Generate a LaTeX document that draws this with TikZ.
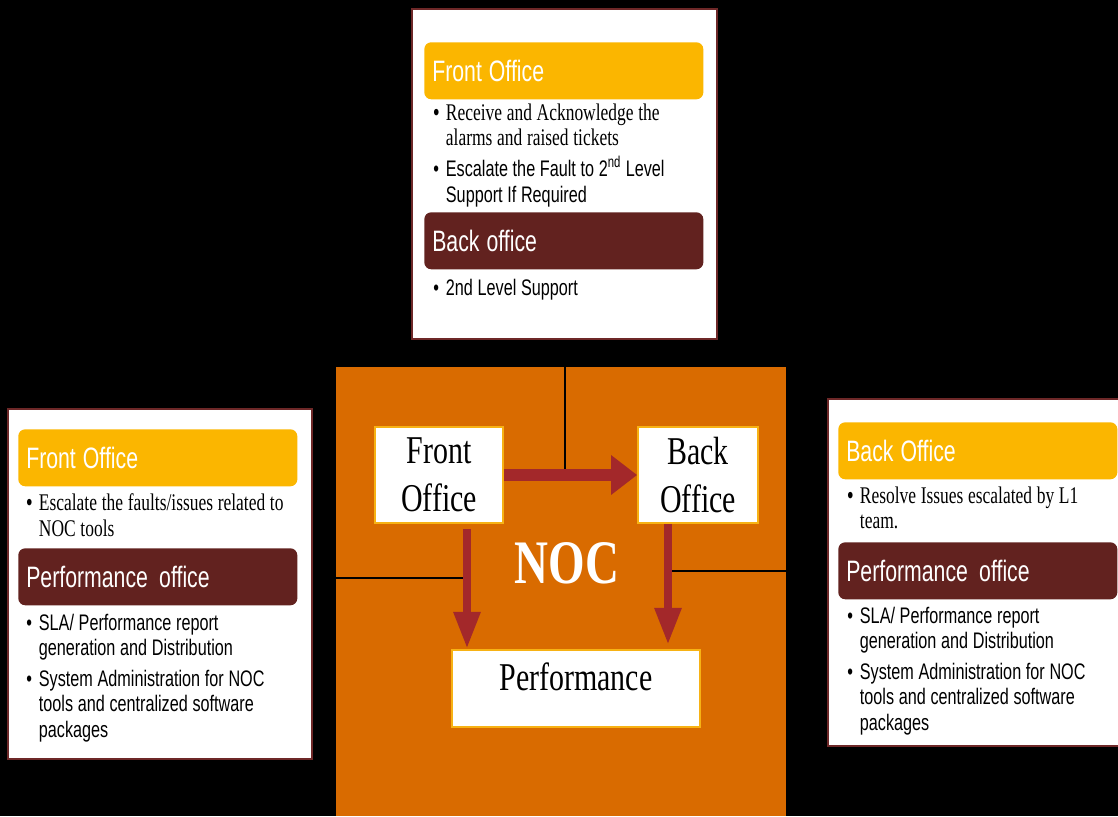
\documentclass[tikz,border=0pt]{standalone}
\usepackage{fontspec}
\setmainfont{Liberation Serif}
\newfontfamily\slidesf[FakeStretch=0.72, WordSpace=0.75]{Liberation Sans}
\newfontfamily\slideserif[FakeStretch=0.73, WordSpace=0.75]{Liberation Serif}
\newfontfamily\boxserif[FakeStretch=0.76]{Liberation Serif}
\usetikzlibrary{arrows.meta, positioning}

\definecolor{nocorange}{RGB}{217,107,0}
\definecolor{bargold}{RGB}{251,182,0}
\definecolor{barmaroon}{RGB}{98,34,31}
\definecolor{panelrim}{RGB}{110,40,40}
\definecolor{flowred}{RGB}{163,40,42}
\definecolor{boxrim}{RGB}{247,178,20}

% bullet lines, sans and serif
\newcommand{\sfitem}[1]{{\slidesf\fontsize{16}{18}\selectfont\hangindent=9pt\hangafter=1\noindent\makebox[9pt][l]{\textbullet}#1\par}\vspace{4pt}}
\newcommand{\rmitem}[1]{{\slideserif\fontsize{17}{18}\selectfont\hangindent=9pt\hangafter=1\noindent\makebox[9pt][l]{\slidesf\textbullet}#1\par}\vspace{4pt}}
% heading text in a coloured bar
\newcommand{\bartext}[1]{\noindent\spaceskip=5pt\relax#1\par}

\begin{document}
\begin{tikzpicture}[
        x=0.025cm, y=-0.025cm,
        panel/.style={draw=panelrim, line width=1.5pt, fill=white, anchor=north west, inner sep=0pt},
        bar/.style={anchor=north west, rounded corners=5pt, minimum height=1.425cm, text width=6.575cm,
            inner xsep=0.2cm, text=white, font=\slidesf\fontsize{21}{24}\selectfont},
        goldbar/.style={bar, fill=bargold},
        maroonbar/.style={bar, fill=barmaroon},
        notes/.style={anchor=north west, inner sep=0pt, text width=7cm},
        centerbox/.style={draw=boxrim, line width=1.2pt, fill=white, align=center, inner sep=0pt,
            font=\boxserif\fontsize{28}{34}\selectfont},
        wire/.style={draw=black, line width=1.5pt},
        flow/.style={draw=flowred, line width=0.3cm, -{Triangle[length=0.65cm, width=0.95cm]}},
        drop/.style={draw=flowred, line width=0.22cm, -{Triangle[length=0.93cm, width=0.62cm]}}
    ]

    \useasboundingbox (0,0) rectangle (1118,816);
    \clip (0,0) rectangle (1118,816);
    \fill[black] (0,0) rectangle (1118,816);

    % NOC block
    \fill[nocorange] (336,367) rectangle (786,816);

    % Top panel
    \node[panel, minimum width=7.625cm, minimum height=8.25cm] (toppanel) at (411,8) {};
    \node[goldbar] (topfront) at ([shift={(13,34)}]toppanel.north west) {\bartext{Front Office}};
    \node[notes] (topfrontnotes) at ([shift={(9,4)}]topfront.south west) {
        \rmitem{Receive and Acknowledge the\newline alarms and raised tickets}
        \sfitem{Escalate the Fault to 2\textsuperscript{nd} Level\newline Support If Required}};
    \node[maroonbar] (topback) at ([shift={(13,204)}]toppanel.north west) {\bartext{Back office}};
    \node[notes] (topbacknotes) at ([shift={(9,9)}]topback.south west) {
        \sfitem{2nd Level Support}};

    % Left panel
    \node[panel, minimum width=7.6cm, minimum height=8.75cm] (leftpanel) at (7,408) {};
    \node[goldbar] (leftfront) at ([shift={(11,21)}]leftpanel.north west) {\bartext{Front Office}};
    \node[notes] (leftfrontnotes) at ([shift={(8,7)}]leftfront.south west) {
        \rmitem{Escalate the faults/issues related to\newline NOC tools}};
    \node[maroonbar] (leftperf) at ([shift={(11,140)}]leftpanel.north west) {\bartext{Performance\hspace{3pt} office}};
    \node[notes] (leftperfnotes) at ([shift={(8,8)}]leftperf.south west) {
        \sfitem{SLA/ Performance report\newline generation and Distribution}
        \sfitem{System Administration for NOC\newline tools and centralized software\newline packages}};

    % Right panel
    \node[panel, minimum width=7.35cm, minimum height=8.675cm] (rightpanel) at (827,398) {};
    \node[goldbar] (rightback) at ([shift={(11,24)}]rightpanel.north west) {\bartext{Back Office}};
    \node[notes] (rightbacknotes) at ([shift={(9,7)}]rightback.south west) {
        \rmitem{Resolve Issues escalated by L1\newline team.}};
    \node[maroonbar] (rightperf) at ([shift={(11,144)}]rightpanel.north west) {\bartext{Performance\hspace{3pt} office}};
    \node[notes] (rightperfnotes) at ([shift={(9,7)}]rightperf.south west) {
        \sfitem{SLA/ Performance report\newline generation and Distribution}
        \sfitem{System Administration for NOC\newline tools and centralized software\newline packages}};

    % Boxes inside the NOC block
    \node[centerbox, minimum width=3.2cm, minimum height=2.4cm] (fo) at (439,475) {Front\\Office};
    \node[centerbox, minimum width=3cm, minimum height=2.4cm] (bo) at (698,475) {Back\\Office};
    \node[centerbox, minimum width=6.2cm, text height=1cm, text depth=0.925cm] (perf) at (576,688.5) {Performance};
    \node[text=white, font=\boxserif\bfseries\fontsize{44}{50}\selectfont] (noc) at (567,563) {NOC};

    % Wires from the panels
    \coordinate (fodrop) at ([xshift=0.7cm]fo.south);
    \coordinate (bodrop) at ([xshift=-0.75cm]bo.south);
    \coordinate (lefttap) at (467,578);
    \coordinate (righttap) at (668,571);
    \draw[wire] (toppanel.south) -- (toppanel.south |- fo.east);
    \draw[wire] (leftpanel.east |- lefttap) -- (lefttap);
    \draw[wire] (righttap) -- (rightpanel.west |- righttap);

    % Flow arrows
    \draw[flow] (fo.east) -- (bo.west);
    \draw[drop, shorten <=0.125cm] (fodrop) -- (fodrop |- perf.north);
    \draw[drop, shorten >=0.1cm] (bodrop) -- (bodrop |- perf.north);

\end{tikzpicture}
\end{document}
